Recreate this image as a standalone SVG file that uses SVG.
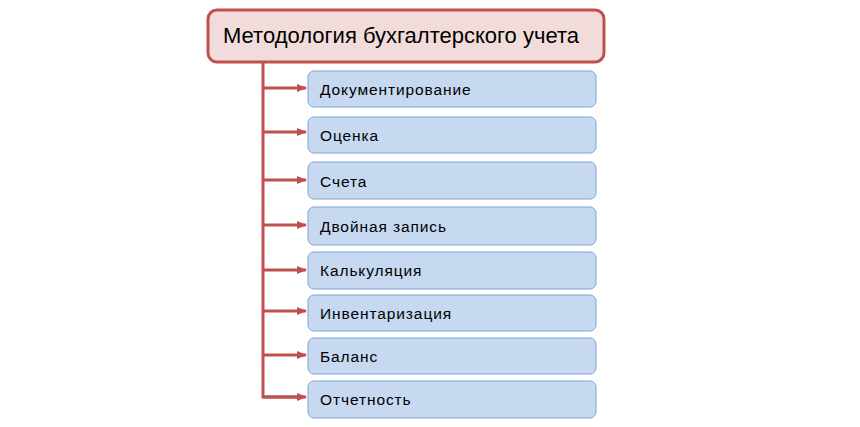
<svg xmlns="http://www.w3.org/2000/svg" width="860" height="427" viewBox="0 0 860 427">
<defs>
<marker id="arr" markerWidth="10" markerHeight="10" refX="9" refY="5" orient="auto" markerUnits="userSpaceOnUse">
<path d="M0,1 L10,5 L0,9 Z" fill="#C0504D"/>
</marker>
<style>
.root{fill:#F2DCDB;stroke:#C0504D;stroke-width:3}
.item{fill:#C6D9F1;stroke:#7FA3D3;stroke-width:1}
.t1{font-family:"Liberation Sans",Arial,sans-serif;font-size:22px;fill:#000}
.t2{font-family:"Liberation Sans",Arial,sans-serif;font-size:15.5px;letter-spacing:0.9px;fill:#000}
.c{stroke:#C0504D;stroke-width:3;fill:none}
</style>
</defs>
<rect width="860" height="427" fill="#fff"/>
<g id="connectors">
<path class="c" d="M263,63 V397 H298"/>
<path class="c" d="M263,88 H306" marker-end="url(#arr)"/>
<path class="c" d="M263,132 H306" marker-end="url(#arr)"/>
<path class="c" d="M263,180 H306" marker-end="url(#arr)"/>
<path class="c" d="M263,225 H306" marker-end="url(#arr)"/>
<path class="c" d="M263,270 H306" marker-end="url(#arr)"/>
<path class="c" d="M263,311 H306" marker-end="url(#arr)"/>
<path class="c" d="M263,355 H306" marker-end="url(#arr)"/>
<path class="c" d="M263,397 H306" marker-end="url(#arr)"/>
</g>
<g id="root"><rect class="root" x="208" y="10" width="396" height="52" rx="9"/><text class="t1" x="223" y="43">Методология бухгалтерского учета</text></g>
<g id="n1"><rect class="item" x="308" y="71" width="288" height="36" rx="6"/><text class="t2" x="320" y="95">Документирование</text></g>
<g id="n2"><rect class="item" x="308" y="117" width="288" height="36" rx="6"/><text class="t2" x="320" y="141">Оценка</text></g>
<g id="n3"><rect class="item" x="308" y="162" width="288" height="37" rx="6"/><text class="t2" x="320" y="187">Счета</text></g>
<g id="n4"><rect class="item" x="308" y="207" width="288" height="38" rx="6"/><text class="t2" x="320" y="232">Двойная запись</text></g>
<g id="n5"><rect class="item" x="308" y="252" width="288" height="37" rx="6"/><text class="t2" x="320" y="276">Калькуляция</text></g>
<g id="n6"><rect class="item" x="308" y="295" width="288" height="36" rx="6"/><text class="t2" x="320" y="319">Инвентаризация</text></g>
<g id="n7"><rect class="item" x="308" y="338" width="288" height="36" rx="6"/><text class="t2" x="320" y="362">Баланс</text></g>
<g id="n8"><rect class="item" x="308" y="381" width="288" height="37" rx="6"/><text class="t2" x="320" y="405">Отчетность</text></g>
</svg>
